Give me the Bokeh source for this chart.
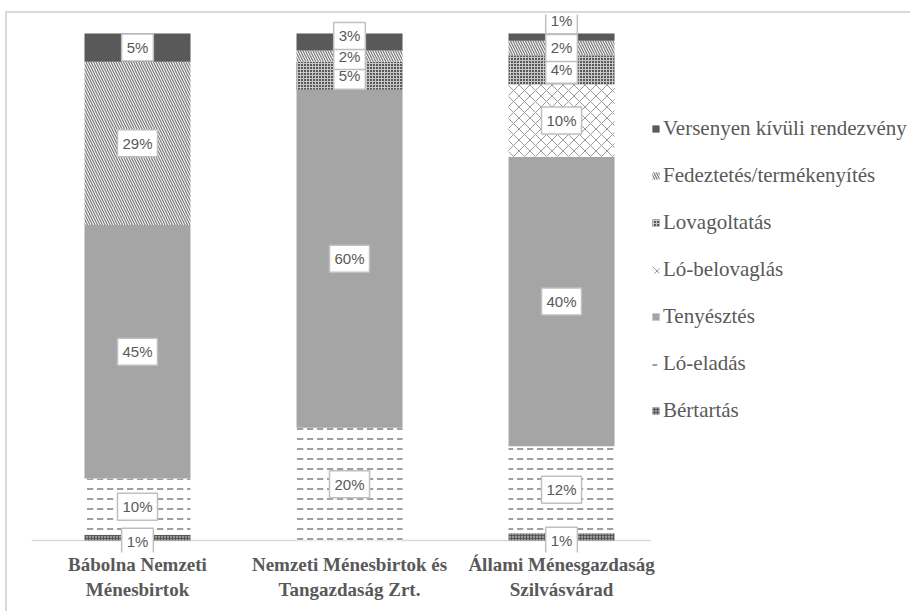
from bokeh.plotting import figure
from bokeh.models import (ColumnDataSource, Range1d, FixedTicker, Legend, LegendItem,
                          Label, InlineStyleSheet)
from bokeh.embed import file_html
from bokeh.resources import INLINE

# ---- data (percent values) ----
farms = ["Bábolna Nemzeti\nMénesbirtok",
         "Nemzeti Ménesbirtok és\nTangazdaság Zrt.",
         "Állami Ménesgazdaság\nSzilvásvárad"]
series = ["Bértartás", "Ló-eladás", "Tenyésztés", "Ló-belovaglás",
          "Lovagoltatás", "Fedeztetés/termékenyítés", "Versenyen kívüli rendezvény"]
bertartas = [1, 0, 1]
lo_eladas = [10, 20, 12]
tenyesztes = [45, 60, 40]
lo_belovaglas = [0, 0, 10]
lovagoltatas = [0, 5, 4]
fedeztetes = [29, 2, 2]
versenyen = [5, 3, 1]

values = [bertartas, lo_eladas, tenyesztes, lo_belovaglas,
          lovagoltatas, fedeztetes, versenyen]

# ---- styles ----
fills = ["#595959", "white", "#a5a5a5", "white", "#595959", "white", "#595959"]
hatches = ["dot", "horizontal_dash", None, "diagonal_cross", "cross",
           "left_diagonal_line", None]
hatch_colors = ["white", "#7f7f7f", "#7f7f7f", "#999999", "#c8c8c8", "#808080", "#7f7f7f"]
hatch_scales = [3, 10, 6, 11, 3, 5, 6]
hatch_weights = [1, 1.5, 1, 1, 1, 1.3, 1]
label_offsets = {(0, 0): -4, (1, 6): 6, (2, 0): -4, (2, 6): 17}

n = len(farms)
xs = list(range(n))
totals = [sum(v[i] for v in values) for i in range(n)]
keys = [f"s{k}" for k in range(len(series))]
data = {"x": xs}
for k, v in enumerate(values):
    data[keys[k]] = [v[i] / totals[i] for i in range(n)]
source = ColumnDataSource(data)

p = figure(width=905, height=600, output_backend="svg", toolbar_location=None,
           x_range=Range1d(-0.5, 3.646), y_range=Range1d(-0.0237, 1.0375),
           y_axis_location=None, min_border_left=24, min_border_right=2,
           min_border_top=1, min_border_bottom=61)
p.outline_line_color = None
p.xgrid.grid_line_color = None
p.ygrid.grid_line_color = None
p.background_fill_color = "white"
p.border_fill_color = "white"
p.stylesheets = [InlineStyleSheet(css=":host { margin-left: 5px; margin-top: 11px; border-top: 2px solid #d9d9d9; border-left: 2px solid #d9d9d9; }")]

# category baseline (ends before the legend, as in the original)
p.segment(x0=[-0.5], y0=[0], x1=[2.42], y1=[0], line_color="#d9d9d9", line_width=1.5)

rs = p.vbar_stack(keys, x="x", width=0.5, source=source,
                  fill_color=fills, hatch_pattern=hatches, hatch_color=hatch_colors,
                  hatch_scale=hatch_scales, hatch_weight=hatch_weights,
                  line_color=None)

# data labels
for i in range(n):
    cum = 0.0
    for k, v in enumerate(values):
        share = v[i] / totals[i]
        if v[i] > 0:
            p.add_layout(Label(x=xs[i], y=cum + share / 2, text=f"{v[i]}%",
                               y_offset=label_offsets.get((i, k), 0),
                               text_align="center", text_baseline="middle",
                               text_font="Liberation Sans", text_font_size="15px",
                               text_color="#595959", background_fill_color="white",
                               border_line_color="#bfbfbf", border_line_width=1.5,
                               padding=5))
        cum += share

ax = p.xaxis[0]
ax.ticker = FixedTicker(ticks=xs)
ax.major_label_overrides = {i: farms[i] for i in xs}
ax.axis_line_color = None
ax.major_tick_line_color = None
ax.minor_tick_line_color = None
ax.major_label_standoff = -5
ax.major_label_text_font = "Liberation Serif"
ax.major_label_text_font_style = "bold"
ax.major_label_text_font_size = "19px"
ax.major_label_text_color = "#595959"

items = [LegendItem(label=series[k], renderers=[rs[k]]) for k in reversed(range(len(series)))]
legend = Legend(items=items, location=(620, 118), orientation="vertical",
                border_line_color=None, background_fill_alpha=0,
                label_text_font="Liberation Serif", label_text_font_size="21px",
                label_text_color="#595959", glyph_width=9, glyph_height=9,
                label_standoff=3, label_height=47, spacing=0, padding=0, margin=0)
p.add_layout(legend)

open("out.html", "w").write(file_html(p, INLINE))
